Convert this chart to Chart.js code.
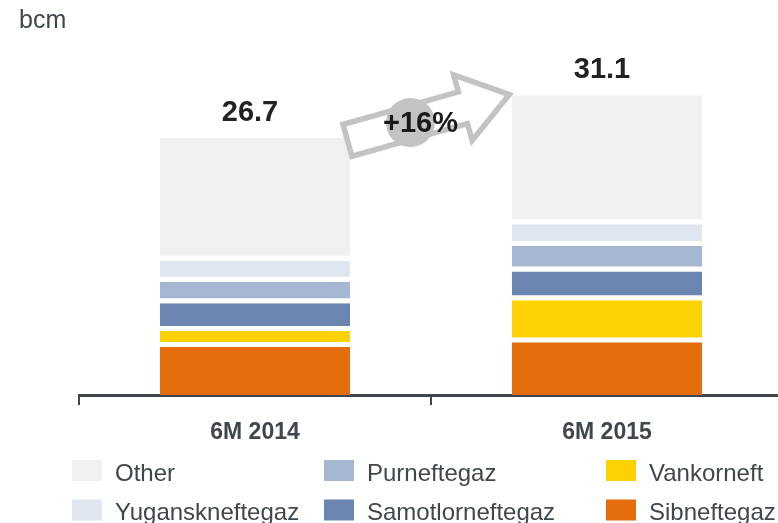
<!DOCTYPE html>
<html>
<head>
<meta charset="utf-8">
<script src="https://cdn.jsdelivr.net/npm/chart.js@4.4.0/dist/chart.umd.min.js"></script>
<style>
  html, body { margin: 0; padding: 0; background: #fff; overflow: hidden; }
  #wrap { position: relative; width: 800px; height: 523px; }
</style>
</head>
<body>
<div id="wrap"><canvas id="chart" width="800" height="523"></canvas></div>
<script>
// data, bcm, bottom segment first
const categories = ['6M 2014', '6M 2015'];
const totals = [26.7, 31.1];
const sibneftegaz = [4.97, 5.45];
const vankorneft = [1.67, 4.38];
const samotlorneftegaz = [2.88, 2.99];
const purneftegaz = [2.23, 2.64];
const yuganskneftegaz = [2.19, 2.26];
const other = [12.76, 13.38];
const growthLabel = '+16%';
const unitLabel = 'bcm';

const colors = {
  Sibneftegaz: '#e46c0a',
  Vankorneft: '#fcd205',
  Samotlorneftegaz: '#6985b0',
  Purneftegaz: '#a5b7d0',
  Yuganskneftegaz: '#dfe6ef',
  Other: '#f0f0f0'
};
const legendColumns = [
  ['Other', 'Yuganskneftegaz'],
  ['Purneftegaz', 'Samotlorneftegaz'],
  ['Vankorneft', 'Sibneftegaz']
];

const FONT = '"Liberation Sans", Arial, sans-serif';
const TEXT = '#3f474e';

const series = [
  ['Sibneftegaz', sibneftegaz],
  ['Vankorneft', vankorneft],
  ['Samotlorneftegaz', samotlorneftegaz],
  ['Purneftegaz', purneftegaz],
  ['Yuganskneftegaz', yuganskneftegaz],
  ['Other', other]
];

const datasets = series.map(([name, values], i) => ({
  label: name,
  data: values,
  backgroundColor: colors[name],
  borderColor: '#ffffff',
  borderWidth: { top: 0, left: 0, right: 0, bottom: i === 0 ? 0 : 5 },
  borderSkipped: false,
  barPercentage: 0.54,
  categoryPercentage: 1
}));

const extras = {
  id: 'extras',
  afterDraw(chart) {
    const ctx = chart.ctx;
    const y = chart.scales.y;
    const b1 = chart.getDatasetMeta(0).data[0];
    const b2 = chart.getDatasetMeta(0).data[1];
    const top1 = y.getPixelForValue(totals[0]);
    const top2 = y.getPixelForValue(totals[1]);

    // unit
    ctx.save();
    ctx.font = '25px ' + FONT;
    ctx.fillStyle = TEXT;
    ctx.textAlign = 'left';
    ctx.textBaseline = 'alphabetic';
    ctx.fillText(unitLabel, 19, 28);

    // totals above bars
    ctx.font = 'bold 29px ' + FONT;
    ctx.fillStyle = '#222222';
    ctx.textAlign = 'center';
    [b1, b2].forEach((b, i) => {
      const top = y.getPixelForValue(totals[i]);
      ctx.fillText(totals[i].toFixed(1), b.x - 5, top - 17);
    });
    ctx.restore();

    // growth arrow
    const tx = b1.x + b1.width / 2 - 5, ty = top1 + 3.4;
    const hx = b2.x - b2.width / 2 + 2, hy = top2 - 2;
    const ang = Math.atan2(hy - ty, hx - tx);
    const len = Math.hypot(hx - tx, hy - ty);
    const sw = 16.5, hw = 34, tip = len - 4.8, base = 122.5;
    ctx.save();
    ctx.translate(tx, ty);
    ctx.rotate(ang);
    ctx.beginPath();
    ctx.moveTo(2.5, -sw);
    ctx.lineTo(base, -sw);
    ctx.lineTo(base, -hw);
    ctx.lineTo(tip, 0);
    ctx.lineTo(base, hw);
    ctx.lineTo(base, sw);
    ctx.lineTo(2.5, sw);
    ctx.closePath();
    ctx.fillStyle = '#ffffff';
    ctx.fill();
    ctx.lineWidth = 5.5;
    ctx.lineJoin = 'miter';
    ctx.strokeStyle = '#c3c3c3';
    ctx.stroke();
    ctx.beginPath();
    ctx.arc(68, 0, 24.5, 0, Math.PI * 2);
    ctx.fillStyle = '#c3c3c3';
    ctx.fill();
    const cx = 68 * Math.cos(ang), cy = 68 * Math.sin(ang);
    ctx.restore();

    ctx.save();
    ctx.font = 'bold 29px ' + FONT;
    ctx.fillStyle = '#1a1a1a';
    ctx.textAlign = 'center';
    ctx.textBaseline = 'middle';
    ctx.fillText(growthLabel, tx + cx + 10, ty + cy + 1.6);
    ctx.restore();

    // legend
    const colX = [72, 324, 606];
    const rowTop = [460, 499.5];
    ctx.save();
    ctx.font = '24px ' + FONT;
    ctx.textBaseline = 'alphabetic';
    ctx.textAlign = 'left';
    legendColumns.forEach((col, c) => {
      col.forEach((name, r) => {
        ctx.fillStyle = colors[name];
        ctx.fillRect(colX[c], rowTop[r], 30, 21);
        ctx.fillStyle = TEXT;
        ctx.fillText(name, colX[c] + 43, rowTop[r] + 20.5);
      });
    });
    ctx.restore();
  }
};

new Chart(document.getElementById('chart').getContext('2d'), {
  type: 'bar',
  data: { labels: categories, datasets },
  options: {
    responsive: false,
    animation: false,
    layout: { padding: { top: 48, right: 17, left: 0, bottom: 0 } },
    plugins: { legend: { display: false }, tooltip: { enabled: false } },
    scales: {
      x: {
        stacked: true,
        z: 1,
        afterFit: s => { s.height = 128; },
        grid: {
          display: true,
          drawOnChartArea: false,
          drawTicks: true,
          tickLength: 10,
          lineWidth: 2,
          color: '#3f474e',
          offset: true
        },
        border: { display: true, color: '#3f474e', width: 3 },
        ticks: {
          color: TEXT,
          padding: 14,
          font: { family: FONT, size: 23, weight: 'bold' }
        }
      },
      y: {
        stacked: true,
        min: 0,
        max: 36,
        afterFit: s => { s.width = 79; },
        grid: { display: false },
        border: { display: false },
        ticks: { display: false }
      }
    }
  },
  plugins: [extras]
});
</script>
</body>
</html>
